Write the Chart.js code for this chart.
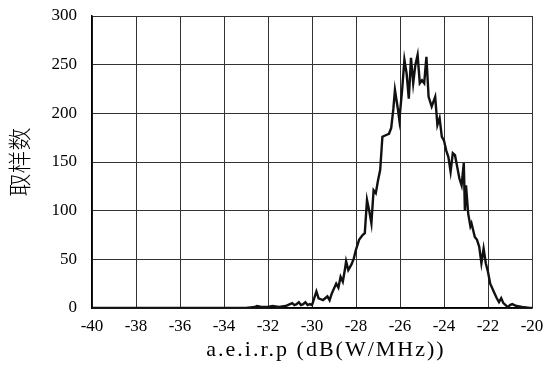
<!DOCTYPE html>
<html>
<head>
<meta charset="utf-8">
<script src="https://cdn.jsdelivr.net/npm/chart.js@4/dist/chart.umd.min.js"></script>
<style>
  html, body { margin: 0; padding: 0; background: #fff; }
  #wrap { width: 545px; height: 380px; position: relative; }
</style>
</head>
<body>
<div id="wrap"><canvas id="c" width="545" height="380"></canvas></div>
<script>
// a.e.i.r.p values (dB(W/MHz))
const aeirp = [
  -40, -33.0, -32.6, -32.5, -32.3, -32.0, -31.8, -31.5, -31.2, -31.0,
  -30.9, -30.8, -30.7, -30.6, -30.5, -30.4, -30.3, -30.2, -30.1, -30.0,
  -29.8, -29.7, -29.6, -29.5, -29.4, -29.3, -29.2, -29.1, -29.0, -28.9,
  -28.8, -28.7, -28.6, -28.5, -28.45, -28.35, -28.2, -28.1, -28.0, -27.86,
  -27.7, -27.6, -27.5, -27.4, -27.3, -27.2, -27.1, -27.0, -26.9, -26.8,
  -26.6, -26.5, -26.4, -26.3, -26.23, -26.1, -26.03, -25.9, -25.8, -25.7,
  -25.6, -25.5, -25.4, -25.3, -25.2, -25.1, -25.0, -24.9, -24.8, -24.7,
  -24.56, -24.4, -24.3, -24.2, -24.1, -24.0, -23.9, -23.8, -23.7, -23.6,
  -23.5, -23.4, -23.3, -23.2, -23.1, -23.05, -23.0, -22.9, -22.8, -22.75,
  -22.6, -22.5, -22.4, -22.3, -22.2, -22.1, -22.0, -21.9, -21.8, -21.7,
  -21.6, -21.5, -21.4, -21.3, -21.2, -21.1, -21.0, -20.9, -20.7, -20.45,
  -20.1, -20
];
// sample counts
const counts = [
  0, 0, 1, 2, 1, 1, 2, 1, 2, 4,
  5, 3, 4, 6, 3, 4, 6, 3, 4, 3,
  17, 10, 9, 8, 10, 12, 8, 15, 20, 25,
  21, 32, 27, 40, 48, 39, 45, 51, 60, 70,
  75, 77, 111, 100, 87, 121, 118, 131, 142, 176,
  178, 179, 185, 205, 224, 205, 193, 225, 255, 241,
  215, 257, 231, 250, 260, 231, 234, 231, 258, 217,
  207, 217, 188, 195, 176, 172, 162, 155, 140, 159,
  157, 145, 133, 126, 149, 100, 126, 97, 84, 87,
  73, 70, 63, 46, 61, 46, 37, 25, 20, 15,
  10, 6, 10, 5, 3, 1, 3, 4, 2, 1,
  0, 0
];
const xTicks = [-40, -38, -36, -34, -32, -30, -28, -26, -24, -22, -20];
const yTicks = [0, 50, 100, 150, 200, 250, 300];
const xTitle = 'a.e.i.r.p (dB(W/MHz))';
const yTitle = '取样数';

const points = aeirp.map((x, i) => ({ x: x, y: counts[i] }));
const serif = "'Liberation Serif', 'Times New Roman', serif";

function zeroPad(axis) {
  axis.paddingTop = 0; axis.paddingBottom = 0;
  axis.paddingLeft = 0; axis.paddingRight = 0;
}

// x-axis title drawn with letter spacing, like the reference
const xTitlePlugin = {
  id: 'xTitlePlugin',
  afterDraw(chart) {
    const ctx = chart.ctx;
    ctx.save();
    ctx.font = "22px " + serif;
    ctx.fillStyle = '#000';
    ctx.textAlign = 'center';
    ctx.textBaseline = 'middle';
    try { ctx.letterSpacing = '2px'; } catch (e) {}
    ctx.fillText(xTitle, 326, 350);
    ctx.restore();
  }
};

new Chart(document.getElementById('c'), {
  type: 'line',
  data: {
    datasets: [{
      data: points,
      borderColor: '#111',
      borderWidth: 2.4,
      pointRadius: 0,
      tension: 0,
      fill: false
    }]
  },
  plugins: [xTitlePlugin],
  options: {
    responsive: false,
    animation: false,
    devicePixelRatio: 1,
    layout: { padding: { left: 0, right: 13, top: 16, bottom: 0 } },
    plugins: { legend: { display: false }, tooltip: { enabled: false } },
    scales: {
      x: {
        type: 'linear',
        min: -40, max: -20,
        afterBuildTicks: (axis) => { axis.ticks = xTicks.map(v => ({ value: v })); },
        afterFit: (axis) => { axis.height = 72; zeroPad(axis); },
        grid: { color: '#333', lineWidth: 1, drawTicks: false },
        border: { display: true, color: '#000', width: 1.5 },
        ticks: { color: '#000', font: { family: serif, size: 17 }, padding: 8, maxRotation: 0 },
        title: { display: false }
      },
      y: {
        type: 'linear',
        min: 0, max: 300,
        afterBuildTicks: (axis) => { axis.ticks = yTicks.map(v => ({ value: v })); },
        afterFit: (axis) => { axis.width = 92; zeroPad(axis); },
        grid: { color: '#333', lineWidth: 1, drawTicks: false },
        border: { display: true, color: '#000', width: 1.5 },
        ticks: { color: '#000', font: { family: serif, size: 17 }, padding: 15 },
        title: { display: true, text: yTitle, color: '#000', font: { family: "'Noto Sans CJK SC', sans-serif", size: 23, weight: '300' }, padding: 5 }
      }
    }
  }
});
</script>
</body>
</html>
